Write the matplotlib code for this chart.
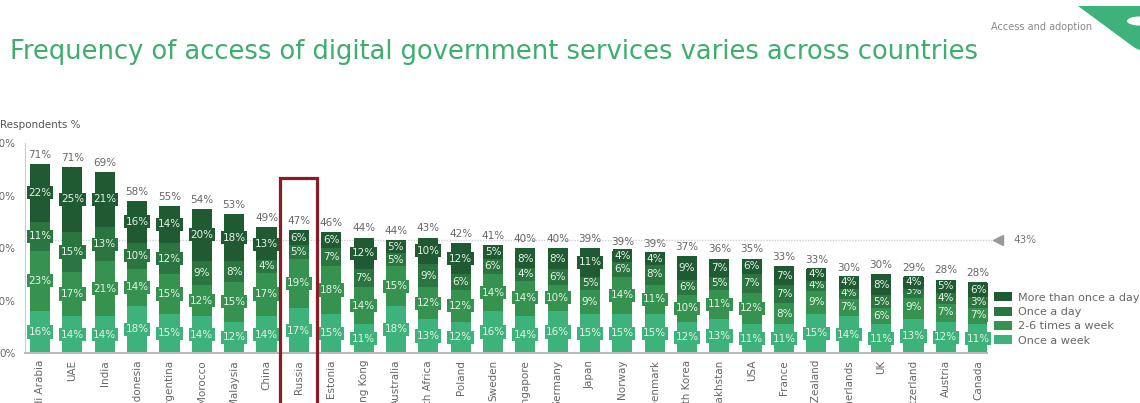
import numpy as np
import matplotlib
matplotlib.use("Agg")
import matplotlib.pyplot as plt
from matplotlib.patches import Polygon, Circle, Rectangle

countries = ["Saudi Arabia", "UAE", "India", "Indonesia", "Argentina", "Morocco",
             "Malaysia", "China", "Russia", "Estonia", "Hong Kong", "Australia",
             "South Africa", "Poland", "Sweden", "Singapore", "Germany", "Japan",
             "Norway", "Denmark", "South Korea", "Kazakhstan", "USA", "France",
             "New Zealand", "Netherlands", "UK", "Switzerland", "Austria", "Canada"]

once_week = [16, 14, 14, 18, 15, 14, 12, 14, 17, 15, 11, 18, 13, 12, 16, 14, 16, 15,
             15, 15, 12, 13, 11, 11, 15, 14, 11, 13, 12, 11]
times_week = [23, 17, 21, 14, 15, 12, 15, 17, 19, 18, 14, 15, 12, 12, 14, 14, 10, 9,
              14, 11, 10, 11, 12, 8, 9, 7, 6, 9, 7, 7]
once_day = [11, 15, 13, 10, 12, 9, 8, 4, 5, 7, 7, 5, 9, 6, 6, 4, 6, 5,
            6, 8, 6, 5, 7, 7, 4, 4, 5, 3, 4, 3]
more_day = [22, 25, 21, 16, 14, 20, 18, 13, 6, 6, 12, 5, 10, 12, 5, 8, 8, 11,
            4, 4, 9, 7, 6, 7, 4, 4, 8, 4, 5, 6]
totals = [71, 71, 69, 58, 55, 54, 53, 49, 47, 46, 44, 44, 43, 42, 41, 40, 40, 39,
          39, 39, 37, 36, 35, 33, 33, 30, 30, 29, 28, 28]

series = [("Once a week", once_week, "#3db27a"),
          ("2-6 times a week", times_week, "#36924f"),
          ("Once a day", once_day, "#2b7540"),
          ("More than once a day", more_day, "#1f5a33")]

avg = 43
highlight = "Russia"

fig = plt.figure(figsize=(11.4, 4.03), dpi=100)
ax = fig.add_axes([0.022, 0.124, 0.844, 0.521])

x = np.arange(len(countries))
bottom = np.zeros(len(countries))
handles = []
for name, vals, col in series:
    vals = np.array(vals, dtype=float)
    b = ax.bar(x, vals, 0.62, bottom=bottom, color=col, label=name, zorder=2)
    handles.append(b)
    for xi, v, b0 in zip(x, vals, bottom):
        ax.text(xi, b0 + v / 2, f"{int(v)}%", ha="center", va="center",
                fontsize=7.5, color="#e6f4e8", zorder=3,
                bbox=dict(boxstyle="square,pad=0.15", fc=col, ec="none"))
    bottom += vals

for xi, t, top in zip(x, totals, bottom):
    ax.annotate(f"{t}%", (xi, top), xytext=(0, 3), textcoords="offset points",
                ha="center", va="bottom", fontsize=7.5, color="#666666")

# average line
ax.plot([-0.5, 29.45], [avg, avg], color="#d0d0d0", lw=1, ls=(0, (1, 1)),
        zorder=1, clip_on=False)
ax.plot([29.62], [avg], marker="<", color="#999999", markersize=7,
        clip_on=False)
ax.text(30.1, avg, f"{avg}%", va="center", fontsize=7.5, color="#777777")

# highlight box
i = countries.index(highlight)
ax.add_patch(Rectangle((i - 0.57, -40), 1.14, 106.7, fill=False,
                       ec="#8b1c24", lw=2.3, clip_on=False, zorder=4))

ax.set_xlim(-0.464, 29.28)
ax.set_ylim(0, 80)
ax.set_yticks([0, 20, 40, 60, 80])
ax.set_yticklabels(["0%", "20%", "40%", "60%", "80%"])
ax.set_xticks(x)
ax.set_xticklabels(countries, rotation=90)
ax.tick_params(axis="both", length=0, labelsize=7.5, colors="#666666")
ax.tick_params(axis="x", pad=5)
ax.tick_params(axis="y", pad=7)
for s in ["top", "right"]:
    ax.spines[s].set_visible(False)
ax.spines["left"].set_color("#cccccc")
ax.spines["bottom"].set_color("#bbbbbb")
ax.spines["bottom"].set_linewidth(1.5)

ax.legend(handles[::-1], [s[0] for s in series][::-1], loc="upper left",
          bbox_to_anchor=(0.872, 0.275), bbox_transform=fig.transFigure,
          frameon=False, fontsize=8, handlelength=1.6, handleheight=0.9,
          labelspacing=0.35, handletextpad=0.55, borderpad=0, borderaxespad=0,
          labelcolor="#666666")

fig.text(0.0, 0.69, "Respondents %", fontsize=7.5, color="#555555", va="center")
fig.text(0.009, 0.871, "Frequency of access of digital government services varies across countries",
         fontsize=18.5, color="#3dae6e", va="center")
fig.text(0.958, 0.933, "Access and adoption", fontsize=7, color="#888888",
         ha="right", va="center")

W, H = 1140, 403
fig.patches.append(Polygon([(1078 / W, 1 - 6 / H), (1.0, 1 - 6 / H), (1.0, 1 - 50 / H),
                            (1135 / W, 1 - 48 / H)], closed=True, fc="#3db27a", ec="none",
                           transform=fig.transFigure, figure=fig))
fig.patches.append(Circle((1140 / W, 1 - 21 / H), 13 / W, fc="white", ec="none",
                          transform=fig.transFigure, figure=fig))

fig.savefig("out.png", dpi=100)
